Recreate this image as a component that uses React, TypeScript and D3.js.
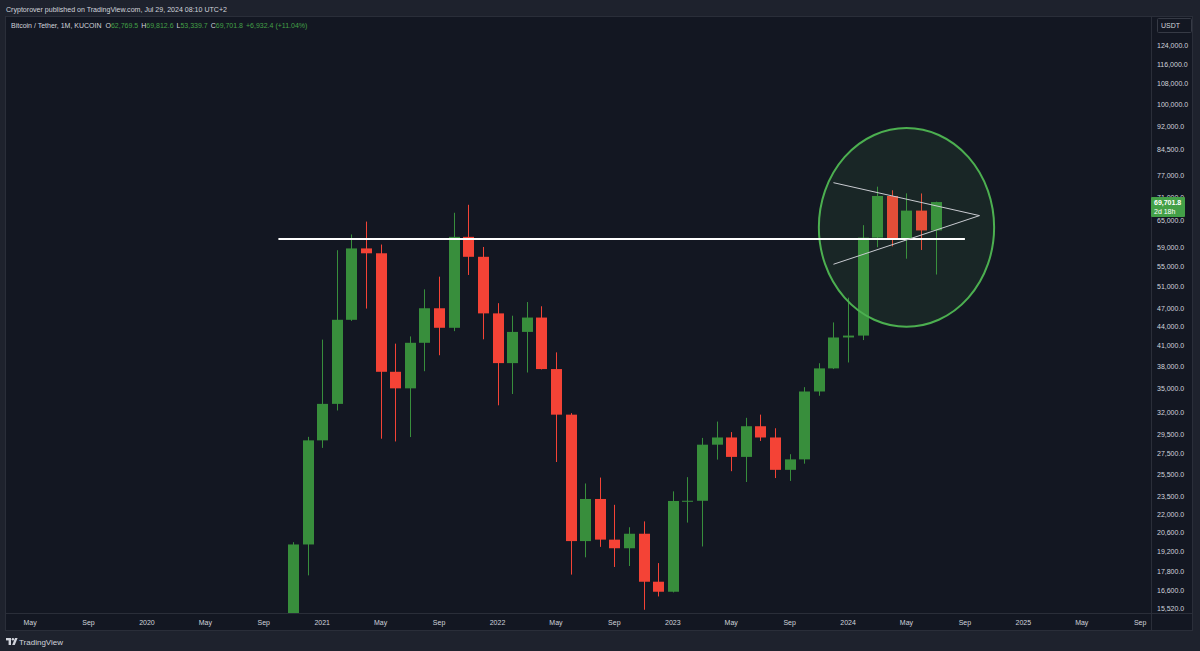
import React, { useEffect } from "react";
import * as d3 from "d3";

// ---- Data (monthly BTC/USDT candles, KuCoin) ----
const months = [
  "2020-11","2020-12","2021-01","2021-02","2021-03","2021-04","2021-05","2021-06","2021-07","2021-08","2021-09","2021-10","2021-11","2021-12",
  "2022-01","2022-02","2022-03","2022-04","2022-05","2022-06","2022-07","2022-08","2022-09","2022-10","2022-11","2022-12",
  "2023-01","2023-02","2023-03","2023-04","2023-05","2023-06","2023-07","2023-08","2023-09","2023-10","2023-11","2023-12",
  "2024-01","2024-02","2024-03","2024-04","2024-05","2024-06","2024-07",
];
const opens = [
  13791, 19695, 28923, 33092, 45134, 58739, 57697, 37253, 35045, 41461, 47100, 43820, 61300, 56950,
  46216, 38466, 43160, 45510, 37630, 31801, 19942, 23296, 20048, 19422, 20491, 17165,
  16541, 23125, 23141, 28465, 29234, 27210, 30471, 29232, 25941, 26963, 34640, 37724,
  42284, 42580, 61131, 71280, 60672, 67540, 62769.5,
];
const highs = [
  19863, 29300, 41950, 58352, 61844, 64854, 59592, 41330, 42448, 50500, 52920, 67000, 69000, 59053,
  47990, 45821, 48189, 47444, 40023, 31982, 24668, 25211, 22799, 20988, 21446, 18387,
  23960, 25250, 29185, 31000, 29820, 31431, 31804, 30245, 27483, 35198, 38450, 44700,
  48969, 64000, 73777, 72797, 71979, 71950, 69812.6,
];
const lows = [
  13195, 17572, 28130, 32296, 44950, 47044, 29100, 28805, 29278, 37332, 39600, 43283, 53256, 42000,
  32917, 34322, 37155, 37578, 26700, 17622, 18782, 19520, 18125, 18190, 15476, 16256,
  16499, 21351, 19549, 26942, 25811, 24800, 28861, 25166, 24901, 26538, 34097, 37630,
  38555, 41884, 59005, 59191, 56552, 58402, 53339.7,
];
const closes = [
  19695, 28923, 33092, 45135, 58740, 57694, 37253, 35045, 41462, 47100, 43824, 61299, 56950, 46216,
  38466, 43160, 45510, 37630, 31801, 19942, 23296, 20050, 19422, 20490, 17164, 16542,
  23125, 23142, 28465, 29233, 27210, 30472, 29232, 25941, 26963, 34640, 37724, 42284,
  42580, 61130, 71280, 60672, 67540, 62772, 69701.8,
];

const priceTicks = [
  124000, 116000, 108000, 100000, 92000, 84500, 77000, 71000, 65000, 59000, 55000, 51000, 47000,
  44000, 41000, 38000, 35000, 32000, 29500, 27500, 25500, 23500, 22000, 20600, 19200, 17800, 16600, 15520,
];
const timeTicks = [
  { t: "2019-05", label: "May" }, { t: "2019-09", label: "Sep" }, { t: "2020-01", label: "2020" },
  { t: "2020-05", label: "May" }, { t: "2020-09", label: "Sep" }, { t: "2021-01", label: "2021" },
  { t: "2021-05", label: "May" }, { t: "2021-09", label: "Sep" }, { t: "2022-01", label: "2022" },
  { t: "2022-05", label: "May" }, { t: "2022-09", label: "Sep" }, { t: "2023-01", label: "2023" },
  { t: "2023-05", label: "May" }, { t: "2023-09", label: "Sep" }, { t: "2024-01", label: "2024" },
  { t: "2024-05", label: "May" }, { t: "2024-09", label: "Sep" }, { t: "2025-01", label: "2025" },
  { t: "2025-05", label: "May" }, { t: "2025-09", label: "Sep" },
];

// Annotations
const hLine = { from: "2020-10", to: "2024-09", price: 60800 };
const triUpper = [{ t: "2023-12", p: 74870 }, { t: "2024-10", p: 66300 }];
const triLower = [{ t: "2023-12", p: 55400 }, { t: "2024-10", p: 66300 }];
const ellipseBox = { left: "2023-11", right: "2024-11", top: 91600, bottom: 44000 };

const lastPrice = 69701.8;
const countdown = "2d 18h";
const legendTitle = "Bitcoin / Tether, 1M, KUCOIN";
const legendValues = [
  { k: "O", v: "62,769.5" }, { k: "H", v: "69,812.6" }, { k: "L", v: "53,339.7" }, { k: "C", v: "69,701.8" },
];
const legendChange = "+6,932.4 (+11.04%)";
const headerText = "Cryptorover published on TradingView.com, Jul 29, 2024 08:10 UTC+2";

// ---- helpers / styles ----
const GREEN = "#388e3c";
const RED = "#f44336";
const TEXT = "#d1d4dc";
const PANE = "#131722";
const OUTER = "#1e222d";
const BORDER = "#2a2e39";
const FONT = "'Liberation Sans', Arial, sans-serif";

const mIdx = (s: string) => {
  const [y, m] = s.split("-").map(Number);
  return (y - 2019) * 12 + (m - 1);
};

const PANE_L = 6, PANE_R = 1151, PANE_T = 17, PANE_B = 613;

export default function App() {
  useEffect(() => {
    document.body.style.margin = "0";
    document.body.style.background = OUTER;
  }, []);

  const x = d3.scaleLinear().domain([2.35, 80.74]).range([PANE_L, PANE_R]);
  const y = d3.scaleLog().domain([138010, 15293]).range([PANE_T, PANE_B]);
  const bw = 11;
  const fmt = d3.format(",.1f");

  const candles = months.map((m, i) => ({
    i: mIdx(m), o: opens[i], h: highs[i], l: lows[i], c: closes[i],
  }));

  const ex1 = x(mIdx(ellipseBox.left)), ex2 = x(mIdx(ellipseBox.right));
  const ey1 = y(ellipseBox.top), ey2 = y(ellipseBox.bottom);
  const line = d3.line<{ t: string; p: number }>().x((d) => x(mIdx(d.t))).y((d) => y(d.p));

  const tagY = y(lastPrice);

  return (
    <div style={{ position: "fixed", left: 0, top: 0, width: 1200, height: 651 }}>
      <svg width={1200} height={651} style={{ display: "block", fontFamily: FONT }}>
        <rect x={0} y={0} width={1200} height={651} fill={OUTER} />
        <text x={6} y={12} fontSize={7.3} fill={TEXT} textLength={221} lengthAdjust="spacingAndGlyphs">
          {headerText}
        </text>
        {/* frame */}
        <rect x={5.5} y={16.5} width={1187} height={614} fill={PANE} stroke={BORDER} />
        <defs>
          <clipPath id="pane">
            <rect x={PANE_L} y={PANE_T} width={PANE_R - PANE_L} height={PANE_B - PANE_T} />
          </clipPath>
        </defs>
        <g clipPath="url(#pane)">
          {candles.map((d, k) => {
            const up = d.c >= d.o;
            const col = up ? GREEN : RED;
            const cx = Math.round(x(d.i));
            const top = y(Math.max(d.o, d.c));
            const bot = y(Math.min(d.o, d.c));
            return (
              <g key={k}>
                <line x1={cx + 0.5} x2={cx + 0.5} y1={y(d.h)} y2={y(d.l)} stroke={col} strokeWidth={1} />
                <rect x={cx - 5} y={top} width={bw} height={Math.max(1, bot - top)} fill={col} />
              </g>
            );
          })}
          <ellipse
            cx={(ex1 + ex2) / 2} cy={(ey1 + ey2) / 2} rx={(ex2 - ex1) / 2} ry={(ey2 - ey1) / 2}
            fill="rgba(76,175,80,0.1)" stroke="#4caf50" strokeWidth={2}
          />
          <line
            x1={x(mIdx(hLine.from))} x2={x(mIdx(hLine.to))} y1={y(hLine.price)} y2={y(hLine.price)}
            stroke="#ffffff" strokeWidth={2}
          />
          <path d={line(triUpper) || ""} stroke="#c9cbd1" strokeWidth={1} fill="none" />
          <path d={line(triLower) || ""} stroke="#c9cbd1" strokeWidth={1} fill="none" />
        </g>
        {/* legend */}
        <text x={11} y={28} fontSize={7} fill={TEXT}>
          <tspan>{legendTitle}</tspan>
          {legendValues.map((lv, k) => (
            <React.Fragment key={k}>
              <tspan dx={k === 0 ? 4 : 3} fill={TEXT}>{lv.k}</tspan>
              <tspan fill="#43a047">{lv.v}</tspan>
            </React.Fragment>
          ))}
          <tspan dx={3} fill="#43a047">{legendChange}</tspan>
        </text>
        {/* price axis */}
        <line x1={PANE_R + 0.5} x2={PANE_R + 0.5} y1={17} y2={631} stroke={BORDER} />
        <line x1={6} x2={1192} y1={PANE_B + 0.5} y2={PANE_B + 0.5} stroke={BORDER} />
        <rect x={1157.5} y={18.5} width={34} height={14} fill={PANE} stroke="#363a45" rx={1} />
        <text x={1161} y={28} fontSize={7} fill={TEXT}>USDT</text>
        {priceTicks.map((p) => (
          <text key={p} x={1157} y={y(p)} dy="0.35em" fontSize={7} fill={TEXT}>
            {fmt(p)}
          </text>
        ))}
        <rect x={1151} y={tagY - 5} width={34} height={20} fill="#43a047" rx={1} />
        <text x={1154} y={tagY} dy="0.35em" fontSize={7} fontWeight="bold" fill="#ffffff">{fmt(lastPrice)}</text>
        <text x={1154} y={tagY + 9.5} dy="0.35em" fontSize={7} fill="#ffffff">{countdown}</text>
        {/* time axis */}
        {timeTicks.map((tk) => (
          <text key={tk.t} x={x(mIdx(tk.t))} y={623} dy="0.35em" fontSize={7} fill={TEXT} textAnchor="middle">
            {tk.label}
          </text>
        ))}
        {/* footer logo */}
        <g transform="translate(6,638)" fill="#d1d4dc">
          <rect x={0} y={0} width={5} height={2.4} />
          <rect x={2.6} y={0} width={2.4} height={7} />
          <circle cx={6.9} cy={1.2} r={1.2} />
          <polygon points="9,0 11.6,0 8.8,7 6.2,7" />
        </g>
        <text x={19} y={644.5} fontSize={8} fill={TEXT}>TradingView</text>
      </svg>
    </div>
  );
}
